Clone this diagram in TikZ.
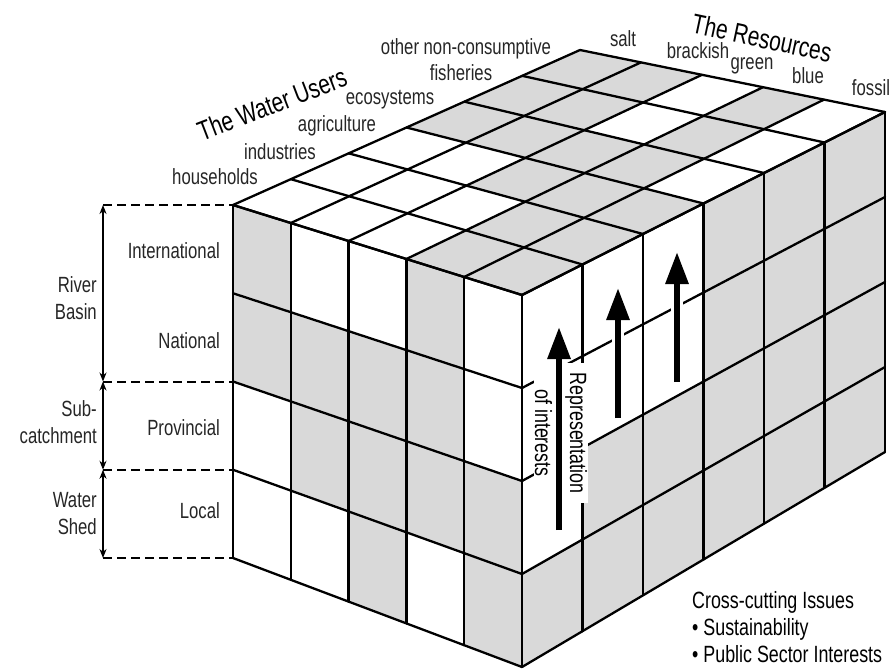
\documentclass[tikz,border=0pt]{standalone}
\usepackage{fontspec}
\setmainfont{Liberation Sans}[FakeStretch=0.76]
\usetikzlibrary{calc,arrows.meta}
\definecolor{cellgray}{gray}{0.85}

\begin{document}
\begin{tikzpicture}[x=1pt,y=-1pt,
		grid/.style={line width=2.3pt,line cap=round,line join=round},
		lbl/.style={font=\fontsize{22}{27}\selectfont,text=black!85,inner sep=0pt},
		title/.style={font=\fontsize{27.5}{30}\selectfont,inner sep=0pt},
		dimline/.style={line width=2pt,dash pattern=on 9pt off 5pt},
		dimarrow/.style={line width=1.5pt,{Stealth[length=9pt,width=7pt]}-{Stealth[length=9pt,width=7pt]}},
		bigarrow/.style={line width=6pt,-{Triangle[length=32pt,width=22pt]}},
		halo/.style={white,line width=12pt}]
		\fill[white] (0,0) rectangle (893,669);
		\useasboundingbox (0,0) rectangle (893,669);
		
		% corners of the cube
		\coordinate (A) at (233,205);
		\coordinate (B) at (522,295);
		\coordinate (C) at (885,112);
		\coordinate (D) at (580,50);
		\coordinate (Ab) at (233,558);
		\coordinate (Bb) at (522,667);
		\coordinate (Cb) at (885,452);
		
		% grid points: front, right and top face
		\foreach \i in {0,...,5}{
			\coordinate (ft-\i) at ($(A)!{\i/5}!(B)$);
			\coordinate (fb-\i) at ($(Ab)!{\i/5}!(Bb)$);
			\coordinate (tb-\i) at ($(D)!{\i/5}!(C)$);
			\foreach \j in {0,...,4}
				\coordinate (f-\i-\j) at ($(ft-\i)!{\j/4}!(fb-\i)$);
			\foreach \k in {0,...,6}
				\coordinate (t-\i-\k) at ($(ft-\i)!{\k/6}!(tb-\i)$);
		}
		\foreach \s in {0,...,6}{
			\coordinate (rt-\s) at ($(B)!{\s/6}!(C)$);
			\coordinate (rb-\s) at ($(Bb)!{\s/6}!(Cb)$);
			\foreach \j in {0,...,4}
				\coordinate (r-\s-\j) at ($(rt-\s)!{\j/4}!(rb-\s)$);
		}
		
		% grey cells
		\foreach \i/\j in {0/0,3/0,0/1,1/1,2/1,3/1,1/2,2/2,3/2,4/2,2/3,4/3}{
			\pgfmathtruncatemacro\ii{\i+1}
			\pgfmathtruncatemacro\jj{\j+1}
			\fill[cellgray] (f-\i-\j) -- (f-\ii-\j) -- (f-\ii-\jj) -- (f-\i-\jj) -- cycle;
		}
		\foreach \s/\j in {3/0,4/0,5/0,3/1,4/1,5/1,1/2,2/2,3/2,4/2,5/2,0/3,1/3,2/3,3/3,4/3,5/3}{
			\pgfmathtruncatemacro\ss{\s+1}
			\pgfmathtruncatemacro\jj{\j+1}
			\fill[cellgray] (r-\s-\j) -- (r-\ss-\j) -- (r-\ss-\jj) -- (r-\s-\jj) -- cycle;
		}
		\foreach \i/\k in {3/0,4/0,3/1,4/1,2/2,3/2,4/2,0/3,1/3,2/3,3/3,0/4,1/4,3/4,0/5,1/5,3/5}{
			\pgfmathtruncatemacro\ii{\i+1}
			\pgfmathtruncatemacro\kk{\k+1}
			\fill[cellgray] (t-\i-\k) -- (t-\ii-\k) -- (t-\ii-\kk) -- (t-\i-\kk) -- cycle;
		}
		
		% grid lines
		\foreach \i in {0,...,5} \draw[grid] (f-\i-0) -- (f-\i-4);
		\foreach \j in {0,...,4} \draw[grid] (f-0-\j) -- (f-5-\j);
		\foreach \s in {0,...,6} \draw[grid] (r-\s-0) -- (r-\s-4);
		\foreach \j in {0,...,4} \draw[grid] (r-0-\j) -- (r-6-\j);
		\foreach \i in {0,...,5} \draw[grid] (t-\i-0) -- (t-\i-6);
		\foreach \k in {0,...,6} \draw[grid] (t-0-\k) -- (t-5-\k);
		
		% representation of interests
		\node[rotate=-90,fill=white,minimum width=140pt,minimum height=54pt,align=center,font=\fontsize{23.5}{35}\selectfont,inner sep=0pt] (rep) at (561,433) {Representation\\of interests};
		\coordinate (s1) at (559,530); \coordinate (e1) at (559,327);
		\coordinate (s2) at (618,418); \coordinate (e2) at (618,288);
		\coordinate (s3) at (677,382); \coordinate (e3) at (677,252);
		\foreach \n in {1,2,3}{
			\draw[halo] (s\n) -- (e\n);
			\draw[bigarrow] (s\n) -- (e\n);
		}
		
		% levels
		\node[lbl,anchor=east] (L1) at (220,251) {International};
		\node[lbl,anchor=east] (L2) at (220,341) {National};
		\node[lbl,anchor=east] (L3) at (220,428) {Provincial};
		\node[lbl,anchor=east] (L4) at (220,511) {Local};
		\node[lbl,anchor=east,align=right] (G1) at (97,298) {River\\Basin};
		\node[lbl,anchor=east,align=right] (G2) at (97,422) {Sub-\\catchment};
		\node[lbl,anchor=east,align=right] (G3) at (97,514) {Water\\Shed};
		\foreach \j in {0,2,3,4}{
			\coordinate (d\j) at ($(f-0-\j)+(-130,0)$);
			\draw[dimline] (d\j) -- (f-0-\j);
		}
		\draw[dimarrow] (d0) -- (d2);
		\draw[dimarrow] (d2) -- (d3);
		\draw[dimarrow] (d3) -- (d4);
		
		% users and resources
		\node[title,rotate=21] (T1) at (272,104) {The Water Users};
		\node[lbl] (U1) at (215,177) {households};
		\node[lbl] (U2) at (280,152) {industries};
		\node[lbl] (U3) at (337,126) {agriculture};
		\node[lbl] (U4) at (390,100) {ecosystems};
		\node[lbl] (U5) at (461,73) {fisheries};
		\node[lbl] (U6) at (466,49) {other non-consumptive};
		\node[title,rotate=-12] (T2) at (762,38) {The Resources};
		\node[lbl] (R1) at (623,39) {salt};
		\node[lbl] (R2) at (698,51) {brackish};
		\node[lbl] (R3) at (752,66) {green};
		\node[lbl] (R4) at (808,76) {blue};
		\node[lbl] (R5) at (871,88) {fossil};
		
		\node[anchor=north west,align=left,font=\fontsize{23.5}{27}\selectfont,inner sep=0pt] (X1) at (692,591) {Cross-cutting Issues\\• Sustainability\\• Public Sector Interests};
		
	\end{tikzpicture}
\end{document}
